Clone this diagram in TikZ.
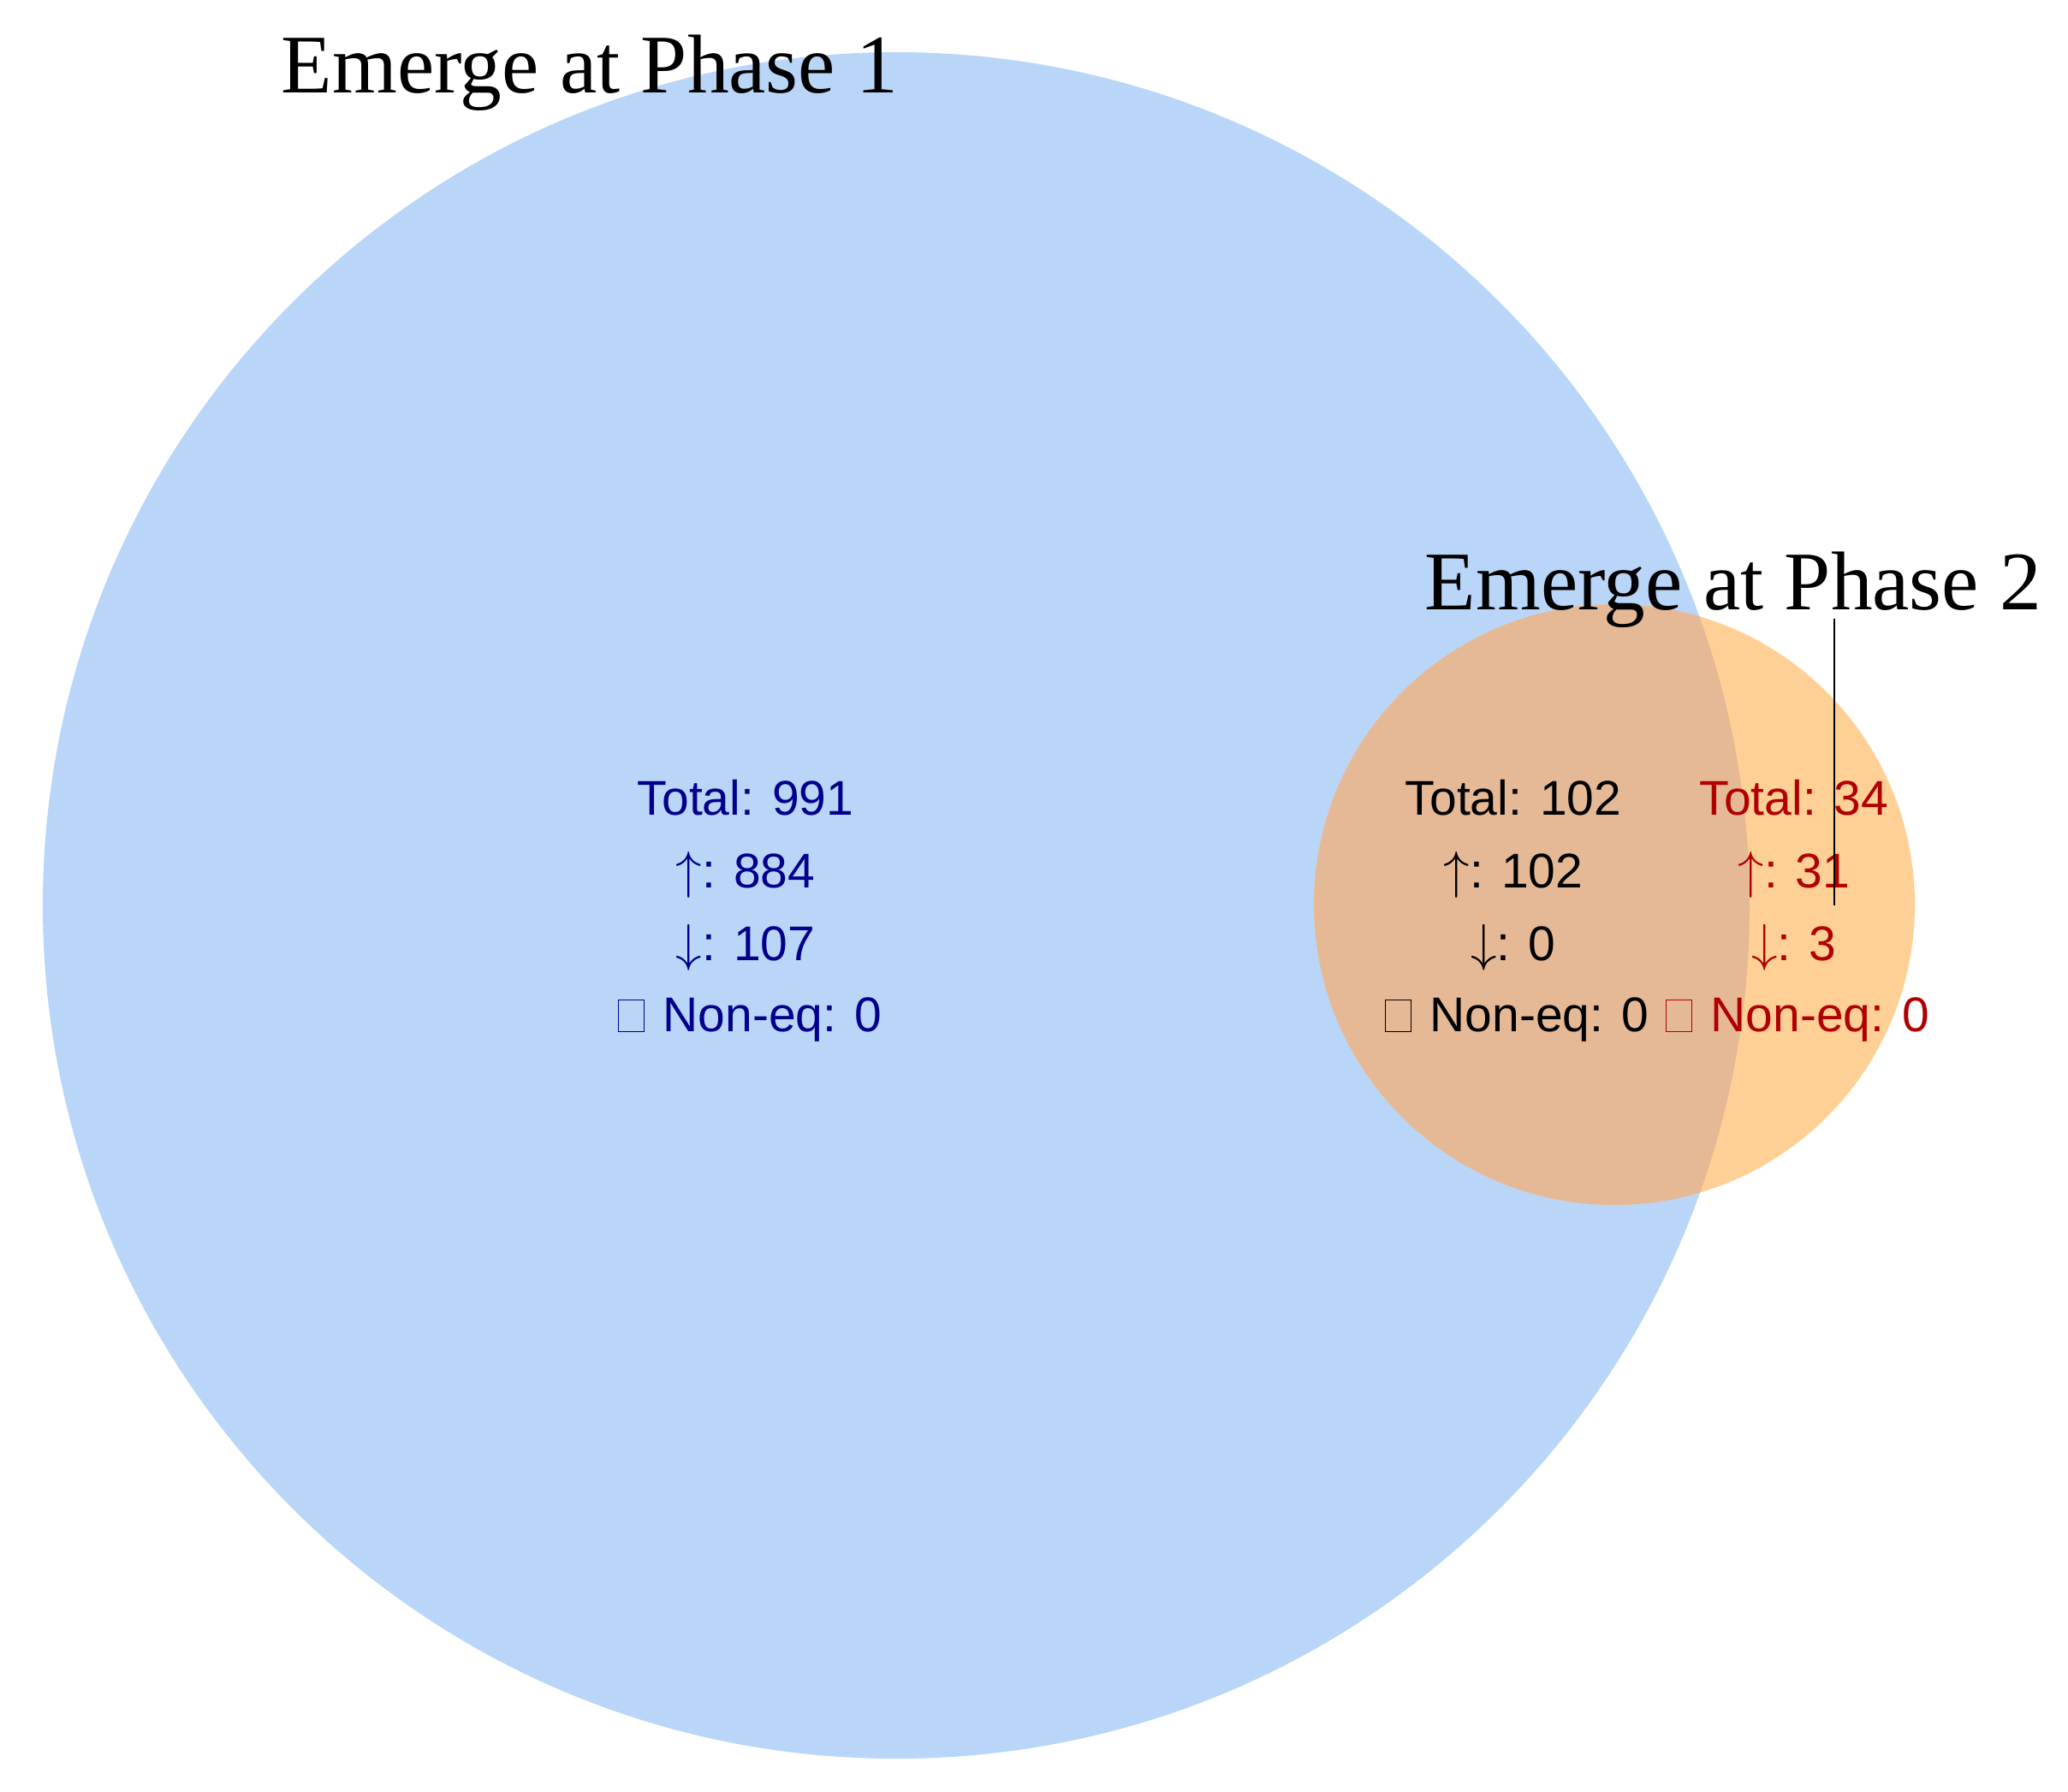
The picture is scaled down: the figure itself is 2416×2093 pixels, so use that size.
\documentclass[tikz,border=0pt]{standalone}
\usepackage{fontspec}
\setmainfont{Liberation Serif}
\setsansfont{Liberation Sans}
\usetikzlibrary{positioning}

\definecolor{setone}{RGB}{185,214,249}
\definecolor{settwo}{RGB}{255,208,150}
\definecolor{setboth}{RGB}{230,185,150}
\definecolor{inkone}{RGB}{0,0,140}
\definecolor{inktwo}{RGB}{176,0,0}

\setlength{\fboxsep}{0pt}
\setlength{\fboxrule}{0.3pt}
\newcommand{\tofu}{\fbox{\rule{0pt}{0.36cm}\hspace{0.29cm}}}
\newcommand{\upc}{$\uparrow$}
\newcommand{\downc}{$\downarrow$}

\tikzset{
  setlabel/.style={font=\fontsize{27.7}{30}\selectfont, anchor=base west, inner sep=0pt},
  tally/.style={font=\sffamily\fontsize{16.2}{20}\selectfont, anchor=base, inner sep=0pt},
}

\begin{document}
\begin{tikzpicture}[x=0.01cm, y=-0.01cm]
\useasboundingbox (0,0) rectangle (2416,2093);

% the two sets
\fill[setone] (1047,1058) circle[radius=997];
\fill[settwo] (1886,1057) circle[radius=351];
\begin{scope}
  \clip (1047,1058) circle[radius=997];
  \fill[setboth] (1886,1057) circle[radius=351];
\end{scope}

\node[setlabel] (name1) at (328,108) {Emerge at Phase 1};
\node[setlabel] (name2) at (1664,712) {Emerge at Phase 2};

% only phase 1
\node[tally, text=inkone] (onetot)  at (871,952)  {Total: 991};
\node[tally, text=inkone] (oneup)   at (871,1037) {\upc: 884};
\node[tally, text=inkone] (onedown) at (871,1122) {\downc: 107};
\node[tally, text=inkone] (oneneq)  at (876,1205) {\tofu\ \hspace{0.06cm}Non-eq: 0};

% both
\node[tally] (bothtot)  at (1768,952)  {Total: 102};
\node[tally] (bothup)   at (1768,1037) {\upc: 102};
\node[tally] (bothdown) at (1768,1122) {\downc: 0};
\node[tally] (bothneq)  at (1772,1205) {\tofu\ \hspace{0.06cm}Non-eq: 0};

% only phase 2
\node[tally, text=inktwo] (twotot)  at (2096,952)  {Total: 34};
\node[tally, text=inktwo] (twoup)   at (2096,1037) {\upc: 31};
\node[tally, text=inktwo] (twodown) at (2096,1122) {\downc: 3};
\node[tally, text=inktwo] (twoneq)  at (2100,1205) {\tofu\ \hspace{0.06cm}Non-eq: 0};

\coordinate (tick) at (2143,723);
\coordinate (tickend) at (2143,1058);
\draw[line width=0.7pt] (tick) -- (tickend);
\end{tikzpicture}
\end{document}
